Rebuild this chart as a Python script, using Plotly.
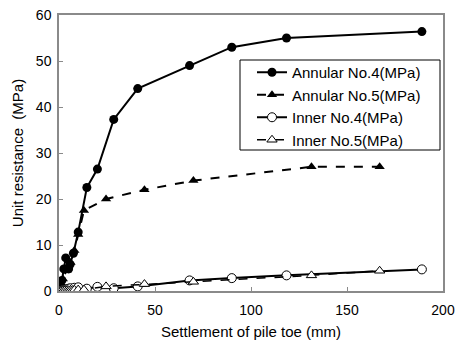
import plotly.graph_objects as go

# Data
ann4_x = [0, 0.8, 1.5, 2.5, 3.5, 5.0, 5.8, 7.5, 10.0, 14.5, 20.0, 28.5, 41.0, 68.0, 90.0, 118.5, 189.0]
ann4_y = [0, 1.2, 2.3, 4.8, 7.2, 4.8, 5.8, 8.2, 12.8, 22.5, 26.5, 37.3, 44.0, 49.0, 53.0, 55.0, 56.4]

ann5_x = [0, 1.0, 2.0, 4.0, 6.0, 8.0, 10.0, 13.0, 24.5, 44.5, 70.0, 131.5, 167.0]
ann5_y = [0, 1.5, 2.6, 4.5, 6.2, 8.8, 12.3, 17.5, 20.0, 22.0, 24.0, 27.0, 27.0]

in4_x = [0, 1, 2, 3, 4, 5, 6, 8, 10, 14.5, 20, 28.5, 41, 68, 90, 118.5, 189]
in4_y = [0, 0.1, 0.2, 0.3, 0.4, 0.5, 0.6, 0.7, 0.8, 0.5, 0.9, 0.6, 1.0, 2.3, 2.8, 3.4, 4.7]

in5_x = [0, 1, 2, 3, 4, 5, 6, 7, 8, 10, 13, 24.5, 44.5, 70, 131.5, 167]
in5_y = [0, 0, 0.05, 0.1, 0.1, 0.15, 0.2, 0.2, 0.25, 0.3, 0.3, 1.0, 1.5, 2.0, 3.4, 4.4]

names = ["Annular No.4(MPa)", "Annular No.5(MPa)", "Inner No.4(MPa)", "Inner No.5(MPa)"]
x_ticks = [0, 50, 100, 150, 200]
y_ticks = [0, 10, 20, 30, 40, 50, 60]

FONT = "Liberation Sans, Arial, sans-serif"
W, H = 455, 340
ML, MR, MT, MB = 59, 12, 15, 49
PW, PH = W - ML - MR, H - MT - MB

def px_to_paper_x(px):
    return (px - ML) / PW

def px_to_paper_y(py):
    return (H - MB - py) / PH

fig = go.Figure()
fig.add_trace(go.Scatter(x=ann4_x, y=ann4_y, name=names[0], mode="lines+markers",
                         line=dict(color="black", width=2, dash="solid"),
                         marker=dict(symbol="circle", size=9, color="black")))
fig.add_trace(go.Scatter(x=ann5_x, y=ann5_y, name=names[1], mode="lines+markers",
                         line=dict(color="black", width=2, dash="dash"),
                         marker=dict(symbol="triangle-up", size=9, color="black")))
fig.add_trace(go.Scatter(x=in4_x, y=in4_y, name=names[2], mode="lines+markers",
                         line=dict(color="black", width=2, dash="solid"),
                         marker=dict(symbol="circle", size=9, color="white",
                                     line=dict(color="black", width=1))))
fig.add_trace(go.Scatter(x=in5_x, y=in5_y, name=names[3], mode="lines+markers",
                         line=dict(color="black", width=1.5, dash="dash"),
                         marker=dict(symbol="triangle-up", size=9, color="white",
                                     line=dict(color="black", width=1))))

axis_common = dict(showgrid=False, zeroline=False, showline=True, mirror=True,
                   linecolor="#8a8a8a", linewidth=1.5, ticks="inside", ticklen=4,
                   tickcolor="#8a8a8a", automargin=False,
                   tickfont=dict(family=FONT, size=14, color="black"))

# legend frame drawn as a rectangle in paper coordinates
fig.add_shape(type="rect", xref="paper", yref="paper",
              x0=px_to_paper_x(240), x1=px_to_paper_x(440),
              y0=px_to_paper_y(150), y1=px_to_paper_y(60),
              line=dict(color="black", width=1), fillcolor="white", layer="above")

fig.update_layout(
    width=W, height=H,
    margin=dict(l=ML, r=MR, t=MT, b=MB),
    paper_bgcolor="white", plot_bgcolor="white",
    font=dict(family=FONT, size=14, color="black"),
    xaxis=dict(range=[0, 200], tickvals=x_ticks, ticklabelstandoff=5,
               title=dict(text="Settlement of pile toe (mm)", standoff=10,
                          font=dict(family=FONT, size=15)),
               **axis_common),
    yaxis=dict(range=[0, 60], tickvals=y_ticks, ticklabelstandoff=3,
               title=dict(text="Unit resistance  (MPa)", standoff=9,
                          font=dict(family=FONT, size=15)),
               **axis_common),
    legend=dict(x=px_to_paper_x(252), y=px_to_paper_y(56), xanchor="left", yanchor="top",
                borderwidth=0, bgcolor="rgba(0,0,0,0)",
                font=dict(family=FONT, size=15), itemwidth=30),
    showlegend=True,
)

fig.write_html("out.html", config={"displayModeBar": False},
               post_script="document.body.style.margin='0';")
